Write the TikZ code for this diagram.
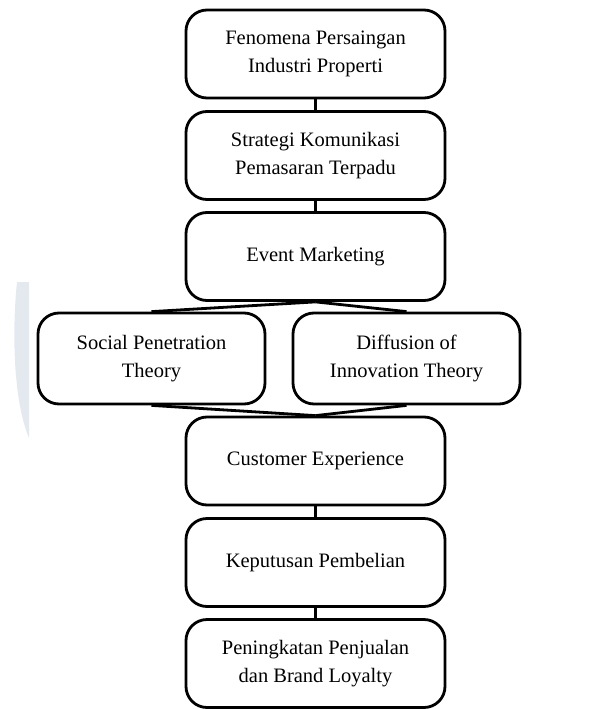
\documentclass[tikz,border=0pt]{standalone}
\usepackage{fontspec}
\setmainfont{Liberation Serif}
\definecolor{wmark}{HTML}{E4E9F0}
\begin{document}
\begin{tikzpicture}[x=1pt, y=-1pt,
  box/.style={draw, line width=2.8pt, rounded corners=21pt, align=center,
    minimum width=259pt, minimum height=88pt, inner sep=0pt,
    font=\fontsize{20.5}{28.5}\selectfont},
  theory/.style={box, minimum width=227pt, minimum height=91pt},
  link/.style={line width=2.8pt}]
\useasboundingbox (0,0) rectangle (596,709);

% Watermark
\fill[wmark] (29,282) -- (17,282) .. controls (12,330) and (13,400) .. (29,438) -- cycle;

% Boxes
\node[box] (fen) at (315.5,54) {Fenomena Persaingan\\Industri Properti};
\node[box] (str) at (315.5,155.5) {Strategi Komunikasi\\Pemasaran Terpadu};
\node[box] (evt) at (315.5,256.5) {Event Marketing};
\node[theory] (spt) at (151.5,358.5) {Social Penetration\\Theory};
\node[theory] (dit) at (406.5,358.5) {Diffusion of\\Innovation Theory};
\node[box] (cx) at (315.5,461) {Customer Experience};
\node[box] (kep) at (315.5,562.5) {Keputusan Pembelian};
\node[box] (pen) at (315.5,663.5) {Peningkatan Penjualan\\dan Brand Loyalty};

% Lines
\draw[link] (fen) -- (str);
\draw[link] (str) -- (evt);
\draw[link] (evt.south) -- (spt.north);
\draw[link] (evt.south) -- (dit.north);
\draw[link] (spt.south) -- (cx.north);
\draw[link] (dit.south) -- (cx.north);
\draw[link] (cx) -- (kep);
\draw[link] (kep) -- (pen);
\end{tikzpicture}
\end{document}
